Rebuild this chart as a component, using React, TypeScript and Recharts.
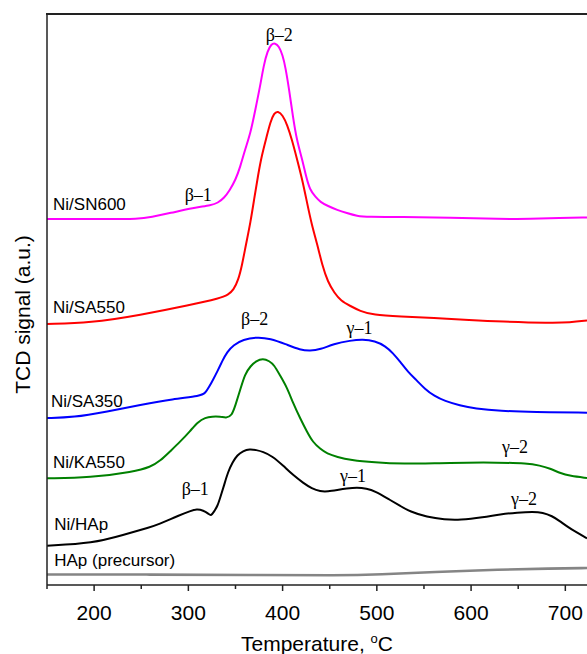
import React from "react";
import { LineChart, Line, XAxis, YAxis, ReferenceDot } from "recharts";

type Pt = { t: number; v: number };
const toPts = (rows: number[][]): Pt[] => rows.map(([t, v]) => ({ t, v }));

// TCD traces, temperature (°C) vs signal (a.u., stacked offsets)
const sn600 = toPts([
  [150, 366], [206, 366], [249, 366], [260, 368], [281, 372], [305, 377], [325, 380], [331, 382],
  [338, 387], [344, 395], [350, 405], [355, 418], [360, 435], [366, 452], [371, 475], [376, 498],
  [380, 520], [384, 534], [388, 541], [392, 542], [396, 539], [400, 530], [403, 518], [407, 495],
  [411, 468], [415, 445], [421, 425], [425, 408], [429, 395], [435, 388], [440, 383], [448, 379],
  [458, 375], [468, 372], [479, 369], [490, 368], [525, 368], [578, 367.5], [631, 366], [663, 366],
  [694, 367], [723, 367.5],
]);

const sa550 = toPts([
  [150, 261], [196, 262], [249, 270], [302, 280], [334, 287], [342, 290], [348, 295], [353, 305],
  [357, 320], [361, 340], [366, 363], [370, 387], [374, 410], [378, 430], [383, 448], [387, 463],
  [391, 472], [395, 474], [400, 470], [405, 460], [410, 445], [415, 427], [421, 405], [426, 382],
  [431, 360], [437, 340], [442, 320], [448, 303], [455, 292], [462, 284], [472, 279], [482, 274],
  [496, 270], [525, 268.5], [560, 267], [599, 265], [631, 263.5], [684, 262], [705, 262.5], [723, 264.5],
]);

const sa350 = toPts([
  [150, 167], [178, 167.5], [214, 173.5], [249, 180], [284, 186], [313, 189], [318, 192], [322, 198],
  [326, 205], [331, 214], [336, 224], [341, 233], [348, 240], [358, 245.5], [373, 248], [387, 246.5],
  [403, 241], [419, 235], [429, 234], [440, 235.5], [454, 241], [472, 244.5], [485, 245.7], [498, 244],
  [509, 239], [517, 232], [525, 223], [533, 213], [542, 205], [551, 196], [561, 189], [572, 184],
  [588, 179.5], [604, 176.5], [631, 174], [666, 173], [723, 172.3],
]);

const ka550 = toPts([
  [150, 106.7], [196, 107.3], [242, 113.3], [260, 118], [270, 124], [281, 134], [291, 143], [302, 154],
  [310, 163], [318, 167.5], [325, 168.5], [334, 168.5], [340, 167], [346, 169], [350, 180], [355, 195],
  [360, 211], [366, 219], [372, 224], [379, 226.5], [386, 224], [391, 220], [397, 210], [405, 197],
  [411, 182], [419, 166], [426, 153], [432, 143], [440, 136], [447, 131.5], [458, 128], [472, 125],
  [498, 122.5], [525, 121], [578, 122.3], [631, 122.5], [659, 121.7], [673, 119.5], [684, 116.5],
  [694, 112], [705, 109], [723, 107],
]);

const niHap = toPts([
  [150, 39.3], [199, 41.7], [231, 50], [260, 58], [267, 60], [291, 70], [302, 74], [309, 76],
  [316, 74.5], [321, 71.5], [324, 69], [327, 73], [331, 79], [334, 88], [338, 100], [342, 113],
  [347, 123], [352, 130], [358, 134], [365, 136], [372, 135], [379, 133.3], [389, 129], [401, 119],
  [411, 110], [422, 102], [431, 96.5], [440, 93.5], [448, 93.5], [458, 95], [468, 96.5], [479, 97.5],
  [489, 96.5], [498, 94], [514, 85], [525, 79], [535, 73.5], [553, 68], [572, 65.5], [588, 65],
  [613, 67.7], [631, 70.7], [649, 72.5], [666, 73.3], [676, 72.5], [686, 69], [694, 64], [702, 58.5],
  [712, 52.5], [723, 46.7],
]);

const hapPrecursor = toPts([
  [150, 10.5], [260, 10.5], [366, 10], [461, 9.5], [503, 10.5], [560, 13], [631, 15.5], [684, 16.5], [723, 17],
]);

const series = [
  { name: "Ni/SN600", data: sn600, color: "#ff00ff", width: 2 },
  { name: "Ni/SA550", data: sa550, color: "#ff0000", width: 2 },
  { name: "Ni/SA350", data: sa350, color: "#0000ff", width: 2 },
  { name: "Ni/KA550", data: ka550, color: "#008000", width: 2 },
  { name: "Ni/HAp", data: niHap, color: "#000000", width: 2 },
  { name: "HAp (precursor)", data: hapPrecursor, color: "#858585", width: 2.6 },
];

// sample names: left-aligned text, [t, v] of baseline start
const nameLabels: [string, number, number][] = [
  ["Ni/SN600", 156.4, 375],
  ["Ni/SA550", 156.4, 272],
  ["Ni/SA350", 154.2, 178],
  ["Ni/KA550", 156.4, 117],
  ["Ni/HAp", 157.7, 55],
  ["HAp (precursor)", 157.7, 19],
];

// peak labels: centered, [text, t, v of baseline]
const peakLabels: [string, number, number][] = [
  ["β–2", 396.5, 544],
  ["β–1", 310.5, 384],
  ["β–2", 370.3, 260],
  ["γ–1", 481.7, 251],
  ["γ–2", 646.6, 132],
  ["β–1", 307.3, 90],
  ["γ–1", 474.8, 103],
  ["γ–2", 656.1, 80],
];

const xTicks = [150, 200, 250, 300, 350, 400, 450, 500, 550, 600, 650, 700];
const AXIS = "#222";
const SANS = "'Liberation Sans', Arial, sans-serif";
const SERIF = "'Liberation Serif', 'Times New Roman', serif";

const XTick = (props: any) => {
  const { x, y, payload } = props;
  const major = payload.value % 100 === 0;
  return (
    <g>
      <line x1={x} x2={x} y1={y} y2={y + (major ? 6 : 4)} stroke={AXIS} strokeWidth={1.5} />
      {major && (
        <text x={x} y={y + 35} textAnchor="middle" fontSize={21} fontFamily={SANS} fill="#000">
          {payload.value}
        </text>
      )}
    </g>
  );
};

const XLabel = (props: any) => {
  const { viewBox } = props;
  const cx = viewBox.x + viewBox.width / 2;
  return (
    <text x={cx} y={viewBox.y + 66} textAnchor="middle" fontSize={21} fontFamily={SANS} fill="#000">
      Temperature,{" "}
      <tspan fontSize={13} dy={-8}>o</tspan>
      <tspan dy={8}>C</tspan>
    </text>
  );
};

const YLabel = (props: any) => {
  const { viewBox } = props;
  const cy = viewBox.y + viewBox.height / 2 + 15;
  return (
    <text
      x={22}
      y={cy}
      transform={`rotate(-90, 22, ${cy})`}
      textAnchor="middle"
      dominantBaseline="central"
      fontSize={21}
      fontFamily={SANS}
      fill="#000"
    >
      TCD signal (a.u.)
    </text>
  );
};

export default function App() {
  return (
    <div style={{ position: "absolute", left: 0, top: 0, width: 587, height: 654, overflow: "hidden", background: "#fff" }}>
      <LineChart width={587} height={654} margin={{ top: 14, right: 0, bottom: 9, left: 0 }}>
        <XAxis
          dataKey="t"
          type="number"
          domain={[150, 723]}
          ticks={xTicks}
          interval={0}
          allowDataOverflow
          height={60}
          axisLine={{ stroke: AXIS, strokeWidth: 1.5 }}
          tickLine={false}
          tickSize={0}
          tickMargin={0}
          tick={<XTick />}
          label={<XLabel />}
        />
        <YAxis
          type="number"
          domain={[0, 571]}
          width={47}
          tick={false}
          tickLine={false}
          axisLine={{ stroke: AXIS, strokeWidth: 1.5 }}
          label={<YLabel />}
        />
        {series.map((s) => (
          <Line
            key={s.name}
            data={s.data}
            dataKey="v"
            type="basis"
            stroke={s.color}
            strokeWidth={s.width}
            dot={false}
            activeDot={false}
            isAnimationActive={false}
          />
        ))}
        {nameLabels.map(([text, t, v]) => (
          <ReferenceDot
            key={text}
            x={t}
            y={v}
            r={1}
            ifOverflow="visible"
            shape={(p: any) => (
              <text x={p.cx} y={p.cy} fontSize={17} fontFamily={SANS} fill="#000">
                {text}
              </text>
            )}
          />
        ))}
        {peakLabels.map(([text, t, v], i) => (
          <ReferenceDot
            key={`pk${i}`}
            x={t}
            y={v}
            r={1}
            ifOverflow="visible"
            shape={(p: any) => (
              <text x={p.cx} y={p.cy} textAnchor="middle" fontSize={18} fontFamily={SERIF} fill="#000">
                {text}
              </text>
            )}
          />
        ))}
      </LineChart>
      {/* top edge of the frame */}
      <div style={{ position: "absolute", left: 46.25, top: 13.25, width: 541, height: 1.5, background: AXIS }} />
    </div>
  );
}
